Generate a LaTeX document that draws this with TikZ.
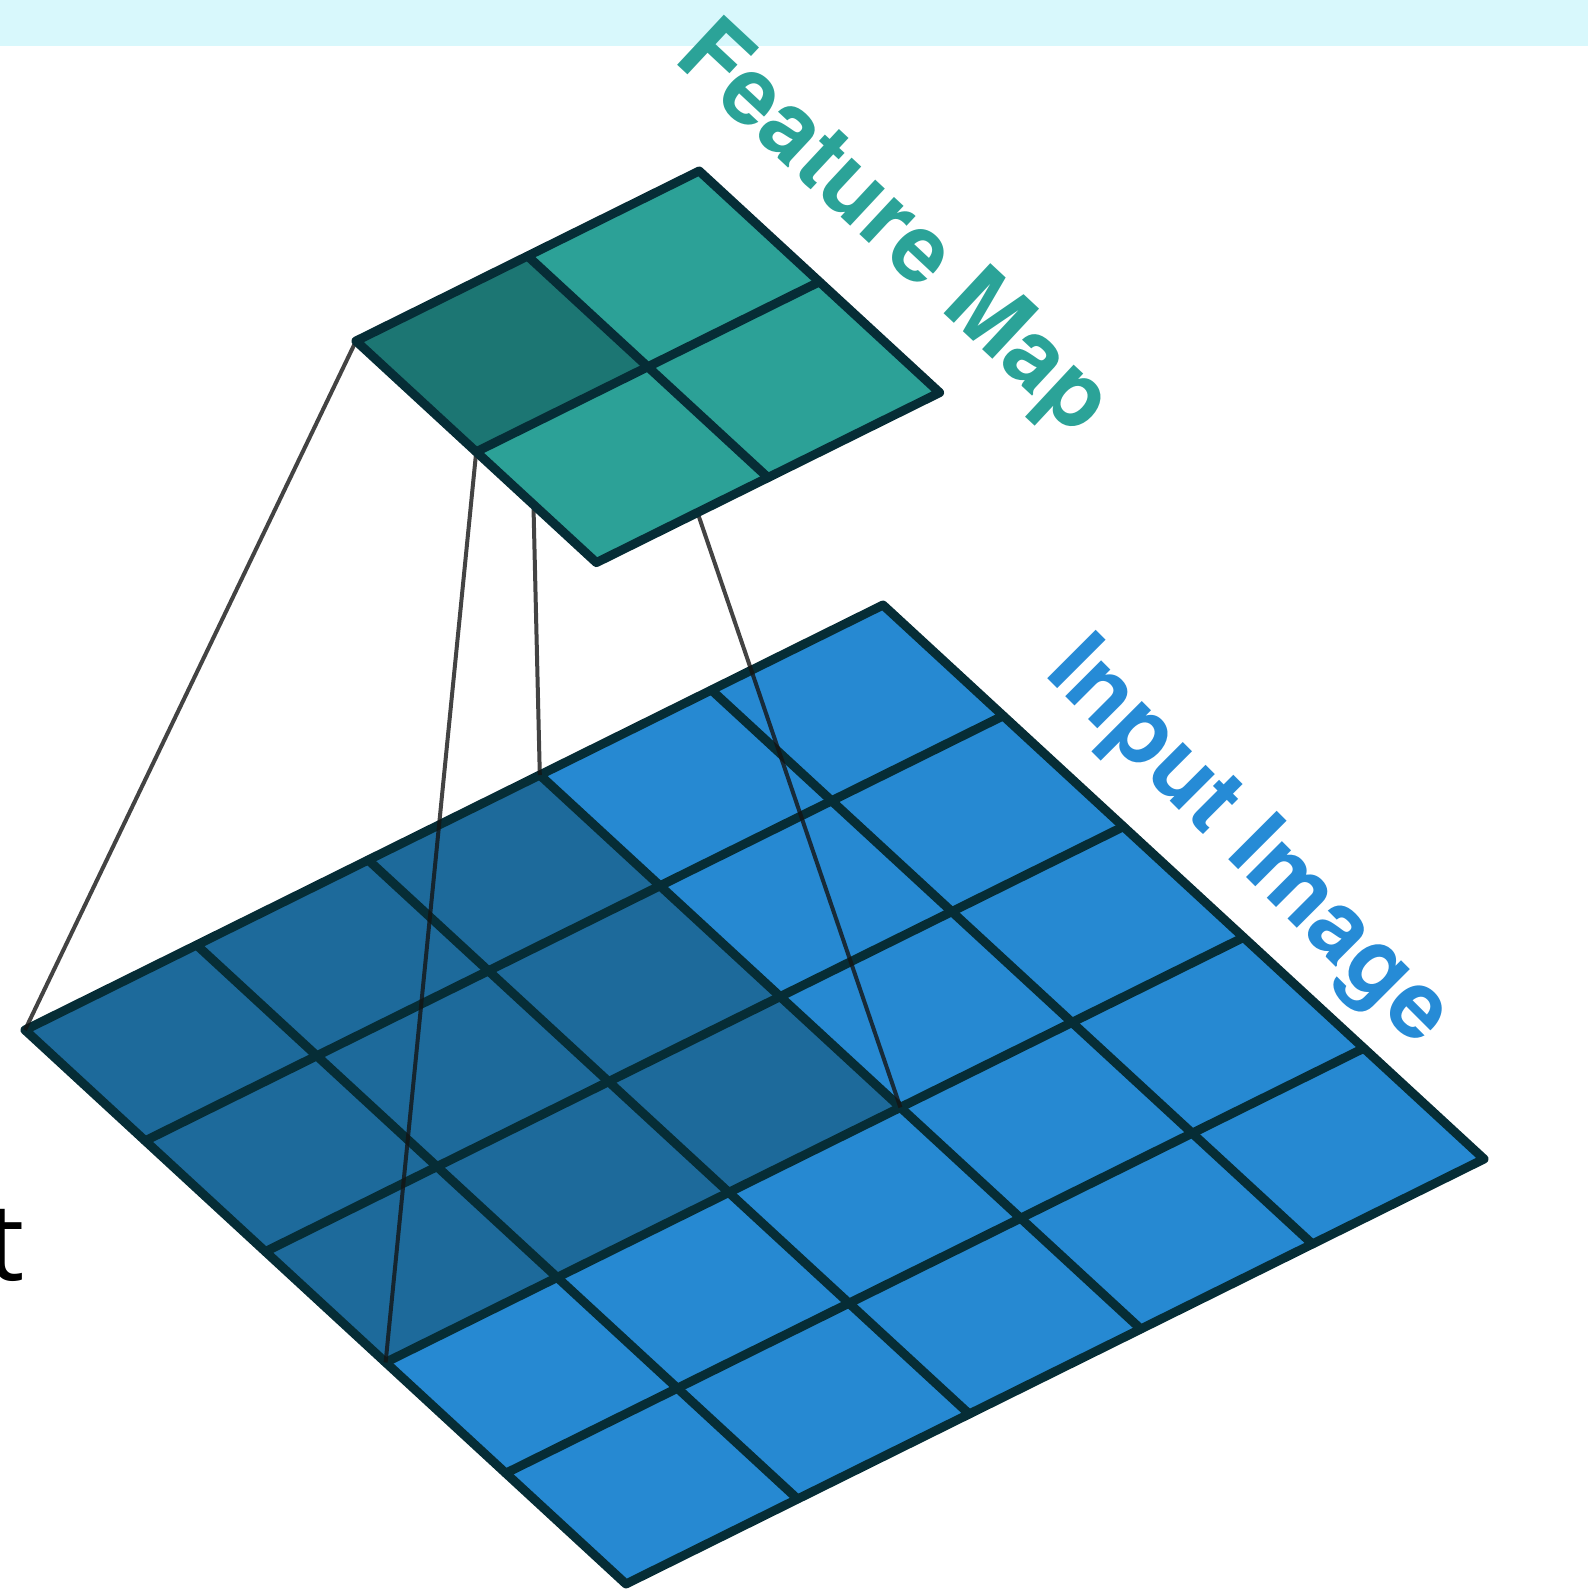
\documentclass[tikz,border=0pt]{standalone}
\usepackage{fontspec}
\newfontfamily\lblfont{TeX Gyre Heros}
\newfontfamily\tfont{Open Sans}
\definecolor{bandc}{RGB}{216,248,252}
\definecolor{inlight}{RGB}{38,137,210}
\definecolor{indark}{RGB}{29,106,155}
\definecolor{fmlight}{RGB}{44,161,151}
\definecolor{fmdark}{RGB}{28,118,115}
\definecolor{gridc}{RGB}{6,45,54}
\definecolor{fmtextc}{RGB}{43,163,152}
\definecolor{intextc}{RGB}{38,139,214}
\definecolor{linkc}{RGB}{20,20,20}
\tikzset{
  gridln/.style={draw=gridc, line width=9pt, line join=round, line cap=round},
  link/.style={draw=linkc, draw opacity=0.8, line width=4pt},
  bigtext/.style={inner sep=0pt, font=\lblfont\bfseries\fontsize{94}{94}\selectfont},
}
\begin{document}
\begin{tikzpicture}[x=1pt,y=-1pt]
\useasboundingbox (0,0) rectangle (1588,1590);
\fill[bandc] (0,0) rectangle (1588,46);
% input image grid
\begin{scope}[shift={(25pt,-1030pt)}, x={(171.6pt,85pt)}, y={(120.2pt,-110.8pt)}]
  \fill[inlight] (0,0) -- (5,0) -- (5,5) -- (0,5) -- cycle;
  \fill[indark] (0,0) -- (3,0) -- (3,3) -- (0,3) -- cycle;
  \foreach \k in {1,...,4} {
    \draw[gridln] (\k,0) -- (\k,5);
    \draw[gridln] (0,\k) -- (5,\k);
  }
  \draw[gridln] (0,0) -- (5,0) -- (5,5) -- (0,5) -- cycle;
  \coordinate (in00) at (0,0);
  \coordinate (in30) at (3,0);
  \coordinate (in33) at (3,3);
  \coordinate (in03) at (0,3);
\end{scope}
% feature map coordinates
\begin{scope}[shift={(356pt,-341pt)}, x={(171.6pt,85pt)}, y={(120.2pt,-110.8pt)}]
  \coordinate (fm00) at (0,0);
  \coordinate (fm10) at (1,0);
  \coordinate (fm11) at (1,1);
  \coordinate (fm01) at (0,1);
\end{scope}
% connectors
\draw[link] (fm00) -- (in00);
\draw[link] (fm01) -- (in03);
\draw[link] (fm10) -- (in30);
\draw[link] (fm11) -- (in33);
% feature map grid
\begin{scope}[shift={(356pt,-341pt)}, x={(171.6pt,85pt)}, y={(120.2pt,-110.8pt)}]
  \fill[fmlight] (0,0) -- (2,0) -- (2,2) -- (0,2) -- cycle;
  \fill[fmdark] (0,0) -- (1,0) -- (1,1) -- (0,1) -- cycle;
  \draw[gridln] (1,0) -- (1,2);
  \draw[gridln] (0,1) -- (2,1);
  \draw[gridln] (0,0) -- (2,0) -- (2,2) -- (0,2) -- cycle;
\end{scope}
% labels
\node[bigtext, text=fmtextc, rotate=-43, anchor=base west] (fmlabel) at (672,60) {Feature Map};
\node[bigtext, text=intextc, rotate=-45, anchor=base west] (inlabel) at (1043,674) {Input Image};
\node[inner sep=0pt, anchor=base west, font=\tfont\fontsize{108}{108}\selectfont] (tlabel) at (-14,1280) {t};
\end{tikzpicture}
\end{document}
